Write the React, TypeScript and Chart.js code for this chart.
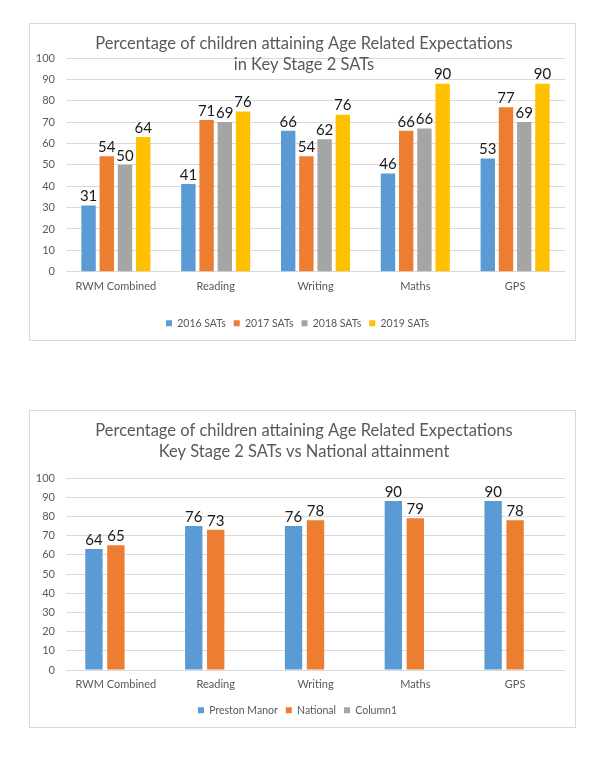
import React, { useEffect, useRef } from "react";
import { Chart, registerables } from "chart.js";

Chart.register(...registerables);

// ---------- data ----------
const subjects = ["RWM Combined", "Reading", "Writing", "Maths", "GPS"];

const sats2016 = [31, 41, 66, 46, 53];
const sats2017 = [54, 71, 54, 66, 77];
const sats2018 = [50, 70, 62, 67, 70];
const sats2019 = [63, 75, 73.5, 88, 88];

const sats2016Labels = ["31", "41", "66", "46", "53"];
const sats2017Labels = ["54", "71", "54", "66", "77"];
const sats2018Labels = ["50", "69", "62", "66", "69"];
const sats2019Labels = ["64", "76", "76", "90", "90"];

const prestonManor = [63, 75, 75, 88, 88];
const national = [65, 73, 78, 79, 78];
const column1: (number | null)[] = [null, null, null, null, null];

const prestonLabels = ["64", "76", "76", "90", "90"];
const nationalLabels = ["65", "73", "78", "79", "78"];

const title1 = ["Percentage of children attaining Age Related Expectations", "in Key Stage 2 SATs"];
const title2 = ["Percentage of children attaining Age Related Expectations", "Key Stage 2 SATs vs National attainment"];

const FONT = "Lato, 'Noto Sans', sans-serif";
const GRID = "#d9d9d9";
const TEXT = "#595959";

const titlePlugin = {
  id: "boxTitle",
  afterDraw(chart: any, _args: any, opts: any) {
    const ctx = chart.ctx;
    ctx.save();
    ctx.font = `${opts.size}px ${FONT}`;
    ctx.fillStyle = TEXT;
    ctx.textAlign = "center";
    ctx.textBaseline = "middle";
    (opts.lines as string[]).forEach((line, i) => {
      ctx.fillText(line, chart.width / 2 + 1.5, opts.y + i * opts.lineGap);
    });
    ctx.restore();
  },
};

const valueLabelPlugin = {
  id: "valueLabels",
  afterDatasetsDraw(chart: any, _args: any, opts: any) {
    const ctx = chart.ctx;
    const labels = opts.labels as string[][];
    ctx.save();
    ctx.font = `${opts.size}px ${FONT}`;
    ctx.fillStyle = "#1a1a1a";
    ctx.textAlign = "center";
    ctx.textBaseline = "middle";
    chart.data.datasets.forEach((_ds: any, di: number) => {
      const meta = chart.getDatasetMeta(di);
      const list = labels[di];
      if (!list) return;
      meta.data.forEach((el: any, i: number) => {
        const t = list[i];
        if (t == null) return;
        ctx.fillText(t, el.x, el.y - opts.offset);
      });
    });
    ctx.restore();
  },
};

function makeOptions(top: number, xHeight: number, lines: string[], labels: string[][], catPct: number) {
  return {
    responsive: false,
    animation: false as const,
    devicePixelRatio: 1,
    layout: { padding: { top, left: 0, right: 10, bottom: 1.4 } },
    datasets: { bar: { categoryPercentage: catPct, barPercentage: 0.79 } },
    scales: {
      x: {
        grid: { display: false, drawTicks: false },
        border: { display: false },
        ticks: { color: TEXT, font: { family: FONT, size: 11 }, padding: 8, maxRotation: 0 },
        afterFit: (s: any) => {
          s.height = xHeight;
        },
      },
      y: {
        min: 0,
        max: 100,
        ticks: { stepSize: 10, color: TEXT, font: { family: FONT, size: 11 }, padding: 11 },
        grid: { color: GRID, drawTicks: false, lineWidth: 1 },
        border: { display: false },
        afterFit: (s: any) => {
          s.width = 36;
        },
      },
    },
    plugins: {
      title: { display: false },
      tooltip: { enabled: false },
      legend: {
        display: true,
        position: "bottom" as const,
        labels: {
          boxWidth: 6,
          boxHeight: 6,
          padding: 8,
          color: TEXT,
          font: { family: FONT, size: 10.5 },
        },
      },
      boxTitle: { lines, y: 19.5, lineGap: 21, size: 16.5 },
      valueLabels: { labels, size: 15, offset: 9 },
    },
  };
}

function ChartBox({ top, config }: { top: number; config: any }) {
  const ref = useRef<HTMLCanvasElement | null>(null);
  useEffect(() => {
    if (!ref.current) return;
    const chart = new Chart(ref.current, config);
    return () => chart.destroy();
  }, [config]);
  return (
    <div
      style={{
        position: "absolute",
        left: 21,
        top,
        width: 547,
        height: 318,
        boxSizing: "border-box",
        border: "1px solid #d9d9d9",
        background: "#fff",
      }}
    >
      <canvas ref={ref} width={545} height={316} style={{ display: "block" }} />
    </div>
  );
}

const config1 = {
  type: "bar",
  data: {
    labels: subjects,
    datasets: [
      { label: "2016 SATs", data: sats2016, backgroundColor: "#5b9bd5" },
      { label: "2017 SATs", data: sats2017, backgroundColor: "#ed7d31" },
      { label: "2018 SATs", data: sats2018, backgroundColor: "#a5a5a5" },
      { label: "2019 SATs", data: sats2019, backgroundColor: "#ffc000" },
    ],
  },
  options: makeOptions(34, 38.4, title1, [sats2016Labels, sats2017Labels, sats2018Labels, sats2019Labels], 0.73),
  plugins: [titlePlugin, valueLabelPlugin],
};

const config2 = {
  type: "bar",
  data: {
    labels: subjects,
    datasets: [
      { label: "Preston Manor", data: prestonManor, backgroundColor: "#5b9bd5" },
      { label: "National", data: national, backgroundColor: "#ed7d31" },
      { label: "Column1", data: column1, backgroundColor: "#a5a5a5" },
    ],
  },
  options: makeOptions(67, 27.1, title2, [prestonLabels, nationalLabels], 0.66),
  plugins: [titlePlugin, valueLabelPlugin],
};

export default function App() {
  return (
    <div style={{ position: "relative", width: 597, height: 740 }}>
      <ChartBox top={15} config={config1} />
      <ChartBox top={402} config={config2} />
    </div>
  );
}
